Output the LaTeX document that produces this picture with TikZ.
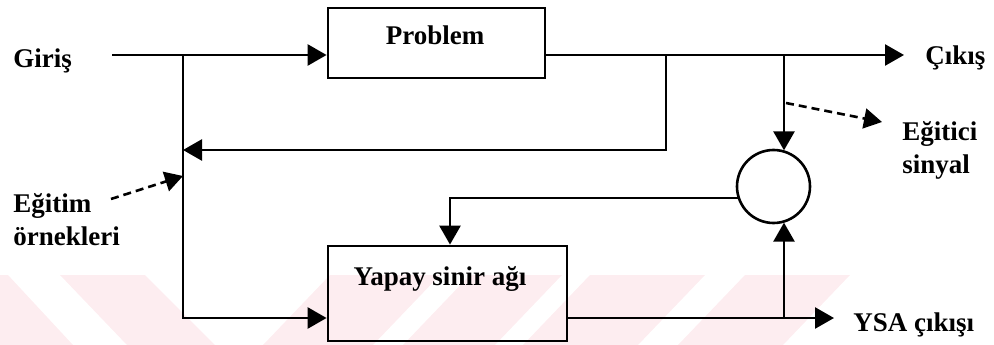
\documentclass[tikz,border=0pt]{standalone}
\usepackage{fontspec}
\setmainfont{Liberation Serif}
\usetikzlibrary{arrows.meta}
\definecolor{wmpink}{RGB}{253,237,240}
\begin{document}
\begin{tikzpicture}[x=1pt,y=-1pt,
  line width=2.6pt,
  flow/.style={-{Triangle[length=19pt,width=21pt]}},
  hint/.style={dash pattern=on 8pt off 5pt,-{Triangle[length=18pt,width=20pt]}},
  block/.style={draw,line width=2.8pt,inner sep=0pt},
  sumnode/.style={draw,circle,line width=2.6pt,inner sep=0pt,minimum size=73pt},
  lbl/.style={font=\fontsize{27pt}{33pt}\selectfont\bfseries,inner sep=0pt},
]
\useasboundingbox (0,0) rectangle (994,345);

% faint striped band along the bottom
\fill[wmpink] (0,275) -- (8,275) -- (73,345) -- (0,345) -- cycle;
\fill[wmpink] (60,275) -- (145,275) -- (215,345) -- (127,345) -- cycle;
\fill[wmpink] (330,275) -- (440,275) -- (373,345) -- (263,345) -- cycle;
\fill[wmpink] (470,275) -- (562,275) -- (495,345) -- (403,345) -- cycle;
\fill[wmpink] (590,275) -- (705,275) -- (638,345) -- (523,345) -- cycle;
\fill[wmpink] (745,275) -- (850,275) -- (783,345) -- (678,345) -- cycle;

% blocks
\node[block,minimum width=217pt,minimum height=70pt] (prob) at (436.5,43) {};
\node[lbl,anchor=base] (probtxt) at (435,45) {Problem};
\node[block,minimum width=239pt,minimum height=95pt] (ysa) at (447.5,293.5) {};
\node[lbl,anchor=base] (ysatxt) at (440,285) {Yapay sinir ağı};
\node[sumnode] (sum) at (773.5,186.5) {};

% labels (multi-line labels are placed by the baseline of their last line)
\node[lbl,anchor=base west] (giris) at (12,68) {Giriş};
\node[lbl,anchor=base west] (cikis) at (924,65) {Çıkış};
\node[lbl,anchor=base west,align=left] (egitici) at (901,173) {Eğitici\\sinyal};
\node[lbl,anchor=base west,align=left] (egitim) at (12,245) {Eğitim\\örnekleri};
\node[lbl,anchor=base west] (ysaout) at (852,331) {YSA çıkışı};

% junction points
\coordinate (gin) at (112,55);
\coordinate (jA) at (183,55);
\coordinate (jB) at (183,318);
\coordinate (out) at (904,55);
\coordinate (fbA) at (666,55);
\coordinate (fbB) at (666,150);
\coordinate (tapA) at (784,55);
\coordinate (yb) at (784,318);
\coordinate (fbC) at (450,0);
\coordinate (yout) at (834,318);
\coordinate (tsA) at (786,103);
\coordinate (tsB) at (882,122);
\coordinate (teA) at (111,199);
\coordinate (teB) at (183,176);

% connectors
\draw[flow] (gin) -- (gin -| prob.west);
\draw[flow] (jA) -- (jB) -- (jB -| ysa.west);
\draw[flow] (prob.east |- out) -- (out);
\draw[flow] (fbA) -- (fbB) -- (fbB -| jA);
\draw[flow] (tapA) -- (tapA |- sum.73);
\draw[flow] (yb) -- (yb |- sum.-73);
\draw[flow] (sum.198) -- (sum.198 -| fbC) -- (fbC |- ysa.north);
\draw[flow] (ysa.east |- yout) -- (yout);
\draw[hint] (tsA) -- (tsB);
\draw[hint] (teA) -- (teB);
\end{tikzpicture}
\end{document}
